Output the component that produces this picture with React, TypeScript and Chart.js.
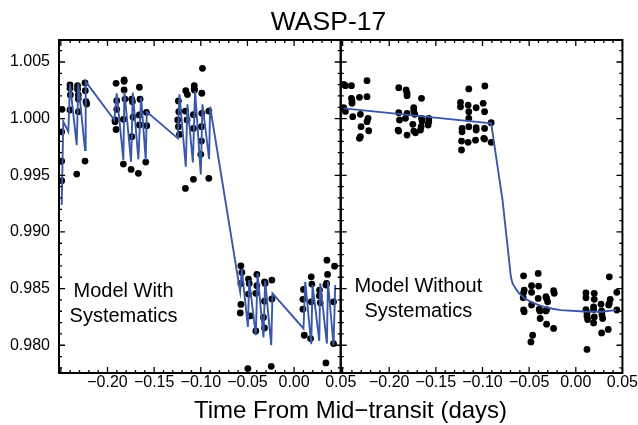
import React, { useEffect, useRef } from 'react';
import { Chart, registerables } from 'chart.js';

Chart.register(...registerables);

const chartTitle = 'WASP-17';
const xAxisTitle = 'Time From Mid\u2212transit (days)';
const leftPanelLabel = ['Model With', 'Systematics'];
const rightPanelLabel = ['Model Without', 'Systematics'];

const xRange = [-0.252, 0.05];
const yRange = [0.97755, 1.00694];
const xTickValues = [-0.2, -0.15, -0.1, -0.05, 0.0, 0.05];
const yTickValues = [0.98, 0.985, 0.99, 0.995, 1.0, 1.005];

// Left panel: raw data (with systematics)
const leftTime = [
  -0.2488, -0.2491, -0.2491, -0.2491, -0.2402, -0.2402, -0.2398, -0.2402, -0.2321, -0.2321,
  -0.2313, -0.2313, -0.2313, -0.2330, -0.2241, -0.2238, -0.2230, -0.2223, -0.2241,
  -0.1908, -0.1822, -0.1822, -0.1822, -0.1658, -0.1901, -0.1901, -0.1919, -0.1919, -0.1908,
  -0.1830, -0.1812, -0.1740, -0.1733, -0.1726, -0.1740, -0.1830, -0.1747, -0.1651, -0.1658,
  -0.1658, -0.1669, -0.1583, -0.1579, -0.1590,
  -0.0982, -0.1161, -0.1143, -0.1070, -0.1070, -0.1068, -0.0989, -0.1240, -0.1236, -0.1247,
  -0.1240, -0.1229, -0.1165, -0.1147, -0.1079, -0.1079, -0.0989, -0.0993, -0.0914, -0.0993,
  -0.1000, -0.1079, -0.1165, -0.0914,
  -0.0570, -0.0560, -0.0570, -0.0570, -0.0577, -0.0489, -0.0481, -0.0489, -0.0470, -0.0399,
  -0.0399, -0.0410, -0.0410, -0.0317, -0.0310, -0.0317, -0.0328, -0.0317, -0.0238, -0.0238,
  -0.0495, -0.0245,
  0.0101, 0.0095, 0.0095, 0.0109, 0.0184, 0.0191, 0.0184, 0.0177, 0.0273, 0.0270,
  0.0280, 0.0352, 0.0359, 0.0348, 0.0341, 0.0434, 0.0423, 0.0423, 0.0341,
];
const leftFlux = [
  1.00082, 0.99884, 0.99625, 0.99452, 1.00297, 1.00268, 1.00209, 1.00076, 1.00291, 1.00259,
  1.00209, 1.00173, 1.00061, 0.99511, 1.00315, 1.00247, 1.00149, 1.00129, 0.99625,
  1.00312, 1.00341, 1.0033, 1.00253, 1.00277, 1.00158, 1.00082, 0.99988, 0.99973, 0.99904,
  0.99994, 1.00173, 1.00171, 1.00149, 1.00012, 0.9984, 0.99599, 0.99552, 1.00171, 1.00032,
  0.99944, 0.99517, 1.00056, 0.99937, 0.99617,
  1.00444, 1.00247, 1.00212, 1.0029, 1.0026, 1.00253, 1.00224, 1.00156, 1.00061, 0.99988,
  0.99929, 0.99861, 1.00067, 0.99988, 1.00035, 0.99914, 1.00047, 0.99929, 1.00067, 0.99802,
  0.99685, 0.99464, 0.99384, 0.99473,
  0.98701, 0.98643, 0.98546, 0.9836, 0.98285, 0.98584, 0.98546, 0.98452, 0.98259, 0.98625,
  0.98525, 0.98458, 0.98126, 0.9856, 0.98546, 0.98389, 0.98245, 0.98153, 0.98575, 0.98408,
  0.97794, 0.97814,
  0.98493, 0.98405, 0.98318, 0.98088, 0.98604, 0.9854, 0.98383, 0.98059, 0.98487, 0.98437,
  0.98374, 0.98751, 0.98625, 0.98546, 0.98531, 0.98698, 0.98383, 0.98015, 0.97844,
];

// Left panel: model with systematics
const leftModelTime = [
  -0.2491, -0.2474, -0.2420, -0.2402, -0.2330, -0.2313, -0.2241, -0.2234,
  -0.1927, -0.1901, -0.1830, -0.1819, -0.1747, -0.1729, -0.1669, -0.1640, -0.1590, -0.1579,
  -0.1246, -0.1229, -0.1161, -0.1143, -0.1085, -0.1061, -0.1000, -0.0982, -0.0911, -0.0900,
  -0.0578, -0.0560, -0.0495, -0.0481, -0.0410, -0.0392, -0.0328, -0.0310, -0.0245, -0.0231,
  0.0101, 0.0120, 0.0184, 0.0198, 0.0270, 0.0280, 0.0352, 0.0363, 0.0423, 0.0441,
];
const leftModelFlux = [
  0.99237, 0.99973, 0.99884, 1.00306, 0.99767, 1.00312, 0.99723, 1.00326,
  0.99988, 1.00224, 0.99634, 1.00238, 0.99619, 1.00229, 0.99641, 1.00188, 0.99634, 1.00061,
  0.99826, 1.00215, 0.99575, 1.00127, 0.99614, 1.00244, 0.99508, 1.00127, 0.99643, 1.00105,
  0.98472, 0.98669, 0.98162, 0.98575, 0.98088, 0.98634, 0.98068, 0.98569, 0.98, 0.98458,
  0.98148, 0.9856, 0.98009, 0.98531, 0.98038, 0.98546, 0.98015, 0.9856, 0.98, 0.98531,
];

// Right panel: systematics-corrected data
const rightTime = [
  -0.2488, -0.2470, -0.2405, -0.2405, -0.2399, -0.2399, -0.2470, -0.2488, -0.2391,
  -0.2319, -0.2309, -0.2302, -0.2319, -0.2309, -0.2238, -0.2238, -0.2227, -0.2238, -0.2220,
  -0.1898, -0.1819, -0.1809, -0.1809, -0.1898, -0.1890, -0.1905, -0.1898, -0.1809, -0.1826,
  -0.1809, -0.1737, -0.1737, -0.1726, -0.1747, -0.1737, -0.1719, -0.1654, -0.1654, -0.1648,
  -0.1658, -0.1665, -0.1576, -0.1576, -0.1583,
  -0.1236, -0.1236, -0.1219, -0.1219, -0.1225, -0.1225, -0.1147, -0.1154, -0.1147, -0.1147,
  -0.1147, -0.1154, -0.1068, -0.1068, -0.1068, -0.1075, -0.0975, -0.0993, -0.0978, -0.0978,
  -0.0986, -0.0978, -0.0907, -0.0907,
  -0.0560, -0.0553, -0.0560, -0.0564, -0.0560, -0.0553, -0.0474, -0.0474, -0.0474, -0.0403,
  -0.0399, -0.0403, -0.0392, -0.0385, -0.0382, -0.0320, -0.0313, -0.0302, -0.0313, -0.0320,
  -0.0313, -0.0238, -0.0231, -0.0238, -0.0463, -0.0481,
  0.0109, 0.0109, 0.0109, 0.0120, 0.0120, 0.0127, 0.0198, 0.0198, 0.0191, 0.0191,
  0.0198, 0.0191, 0.0270, 0.0277, 0.0280, 0.0288, 0.0277, 0.0359, 0.0369, 0.0359,
  0.0352, 0.0348, 0.0440, 0.0440, 0.0120,
];
const rightFlux = [
  1.00303, 1.00291, 1.00291, 1.00179, 1.00156, 1.00135, 1.00064, 1.00096, 1.00017,
  1.00188, 1.00038, 0.99929, 0.99826, 0.9984, 1.00335, 1.00194, 1.00003, 0.99973, 0.99893,
  1.00273, 1.00253, 1.00224, 1.00203, 1.00053, 0.99988, 0.99899, 0.9989, 1.00047, 1.00003,
  0.99855, 1.00096, 1.0007, 1.00038, 0.9995, 0.9989, 0.99875, 1.00179, 1.00003, 0.99979,
  0.99929, 0.99899, 1.00003, 0.99973, 0.99944,
  1.00144, 1.00105, 0.99914, 0.99884, 0.99802, 0.99723, 1.00262, 1.0012, 1.00061, 1.00003,
  0.99929, 0.99791, 1.00096, 0.9992, 0.99899, 0.9981, 1.00288, 1.00135, 1.00061, 0.99914,
  0.99826, 0.9982, 0.99964, 0.99791,
  0.98613, 0.98487, 0.98463, 0.98419, 0.98311, 0.98296, 0.98525, 0.98467, 0.98355, 0.98634,
  0.98522, 0.98413, 0.98318, 0.98303, 0.98236, 0.98428, 0.98413, 0.98383, 0.98315, 0.98303,
  0.98186, 0.98481, 0.98458, 0.98148, 0.98088, 0.98029,
  0.98463, 0.98419, 0.98315, 0.98285, 0.98256, 0.98227, 0.98458, 0.98405, 0.98338, 0.98315,
  0.9825, 0.98197, 0.98362, 0.98303, 0.98271, 0.98236, 0.98109, 0.98604, 0.98405, 0.98369,
  0.98355, 0.98139, 0.98467, 0.98311, 0.97963,
];

// Right panel: transit model without systematics
const rightModelTime = [-0.2488, -0.0907, -0.0785, -0.0696, -0.0678, -0.0640, -0.0607, -0.0550, -0.0481, -0.0410, -0.0339, -0.0250, -0.016, 0.0091, 0.027, 0.0431];
const rightModelFlux = [1.00091, 0.99959, 0.99278, 0.98604, 0.98546, 0.98495, 0.98458, 0.98415, 0.98383, 0.98358, 0.98339, 0.98322, 0.9831, 0.98298, 0.98296, 0.9831];

const FONT = '"Liberation Sans", Arial, Helvetica, sans-serif';
const MODEL_COLOR = '#3a58a8';

const toXY = (xs: number[], ys: number[]) => xs.map((x, i) => ({ x, y: ys[i] }));
const fmtX = (v: number) => {
  const s = Math.abs(v).toFixed(2);
  return v < -1e-9 ? '\u2212' + s : s;
};

const framePlugin = {
  id: 'panelFrame',
  afterDraw(chart: any) {
    const ctx = chart.ctx;
    const ys = chart.scales.y;
    const top = chart.chartArea.top;
    const bottom = chart.chartArea.bottom;
    ctx.save();
    ctx.strokeStyle = '#000';
    for (const id of ['x', 'x2']) {
      const s = chart.scales[id];
      const L = s.left;
      const R = s.right;
      ctx.lineWidth = 1.3;
      ctx.beginPath();
      const xStep = 0.01;
      for (let i = Math.ceil(s.min / xStep - 1e-6); i * xStep <= s.max + 1e-9; i++) {
        const px = s.getPixelForValue(i * xStep);
        const len = i % 5 === 0 ? 6 : 3;
        ctx.moveTo(px, bottom);
        ctx.lineTo(px, bottom - len);
        ctx.moveTo(px, top);
        ctx.lineTo(px, top + len);
      }
      const yStep = 0.001;
      for (let i = Math.ceil(ys.min / yStep - 1e-6); i * yStep <= ys.max + 1e-9; i++) {
        const py = ys.getPixelForValue(i * yStep);
        const len = i % 5 === 0 ? 6 : 3;
        ctx.moveTo(L, py);
        ctx.lineTo(L + len, py);
        ctx.moveTo(R, py);
        ctx.lineTo(R - len, py);
      }
      ctx.stroke();
      ctx.lineWidth = 2;
      ctx.strokeRect(L, top, R - L, bottom - top);
    }
    ctx.fillStyle = '#000';
    ctx.textBaseline = 'alphabetic';
    ctx.textAlign = 'center';
    ctx.font = `26.5px ${FONT}`;
    ctx.fillText(chartTitle, 328.5, 29.5);
    ctx.font = `24px ${FONT}`;
    ctx.fillText(xAxisTitle, 350.5, 418.3);
    ctx.font = `20px ${FONT}`;
    ctx.fillText(leftPanelLabel[0], 123.5, 297.3);
    ctx.fillText(leftPanelLabel[1], 123.5, 321.7);
    ctx.fillText(rightPanelLabel[0], 418.3, 292.3);
    ctx.fillText(rightPanelLabel[1], 418.3, 316.7);
    ctx.restore();
  },
};

const xScale = (id: string) => ({
  type: 'linear',
  position: 'bottom',
  stack: 'panels',
  stackWeight: 1,
  min: xRange[0],
  max: xRange[1],
  grid: { display: false, drawTicks: false },
  border: { display: false },
  afterBuildTicks: (s: any) => {
    s.ticks = xTickValues.map((value) => ({ value }));
  },
  afterFit: (s: any) => {
    s.height = 52;
  },
  ticks: {
    autoSkip: false,
    maxRotation: 0,
    padding: 0,
    color: '#000',
    font: { family: FONT, size: 16 },
    callback: (v: number) => fmtX(v),
  },
});

export default function App() {
  const ref = useRef<HTMLCanvasElement>(null);
  useEffect(() => {
    if (!ref.current) return;
    const chart = new Chart(ref.current, {
      type: 'scatter',
      data: {
        datasets: [
          {
            type: 'line',
            data: toXY(leftModelTime, leftModelFlux),
            xAxisID: 'x',
            borderColor: MODEL_COLOR,
            borderWidth: 1.9,
            pointRadius: 0,
            tension: 0,
            fill: false,
            order: 0,
          },
          {
            type: 'line',
            data: toXY(rightModelTime, rightModelFlux),
            xAxisID: 'x2',
            borderColor: MODEL_COLOR,
            borderWidth: 1.9,
            pointRadius: 0,
            tension: 0,
            fill: false,
            order: 0,
          },
          {
            data: toXY(leftTime, leftFlux),
            xAxisID: 'x',
            backgroundColor: '#000',
            borderWidth: 0,
            pointRadius: 3.4,
            order: 1,
          },
          {
            data: toXY(rightTime, rightFlux),
            xAxisID: 'x2',
            backgroundColor: '#000',
            borderWidth: 0,
            pointRadius: 3.4,
            order: 1,
          },
        ],
      } as any,
      options: {
        animation: false,
        responsive: true,
        maintainAspectRatio: false,
        layout: { padding: { top: 40, left: 0, right: 0, bottom: 0 } },
        plugins: {
          legend: { display: false },
          tooltip: { enabled: false },
          title: { display: false },
        },
        scales: {
          x: xScale('x'),
          x2: xScale('x2'),
          y: {
            type: 'linear',
            position: 'left',
            min: yRange[0],
            max: yRange[1],
            grid: { display: false, drawTicks: false },
            border: { display: false },
            afterBuildTicks: (s: any) => {
              s.ticks = yTickValues.map((value) => ({ value }));
            },
            afterFit: (s: any) => {
              s.width = 59;
            },
            ticks: {
              padding: 9,
              color: '#000',
              font: { family: FONT, size: 16 },
              callback: (v: number) => v.toFixed(3),
            },
          },
        } as any,
      },
      plugins: [framePlugin],
    });
    return () => chart.destroy();
  }, []);
  return (
    <div style={{ position: 'fixed', left: 0, top: 0, width: 638, height: 425, background: '#fff' }}>
      <canvas ref={ref} />
    </div>
  );
}
